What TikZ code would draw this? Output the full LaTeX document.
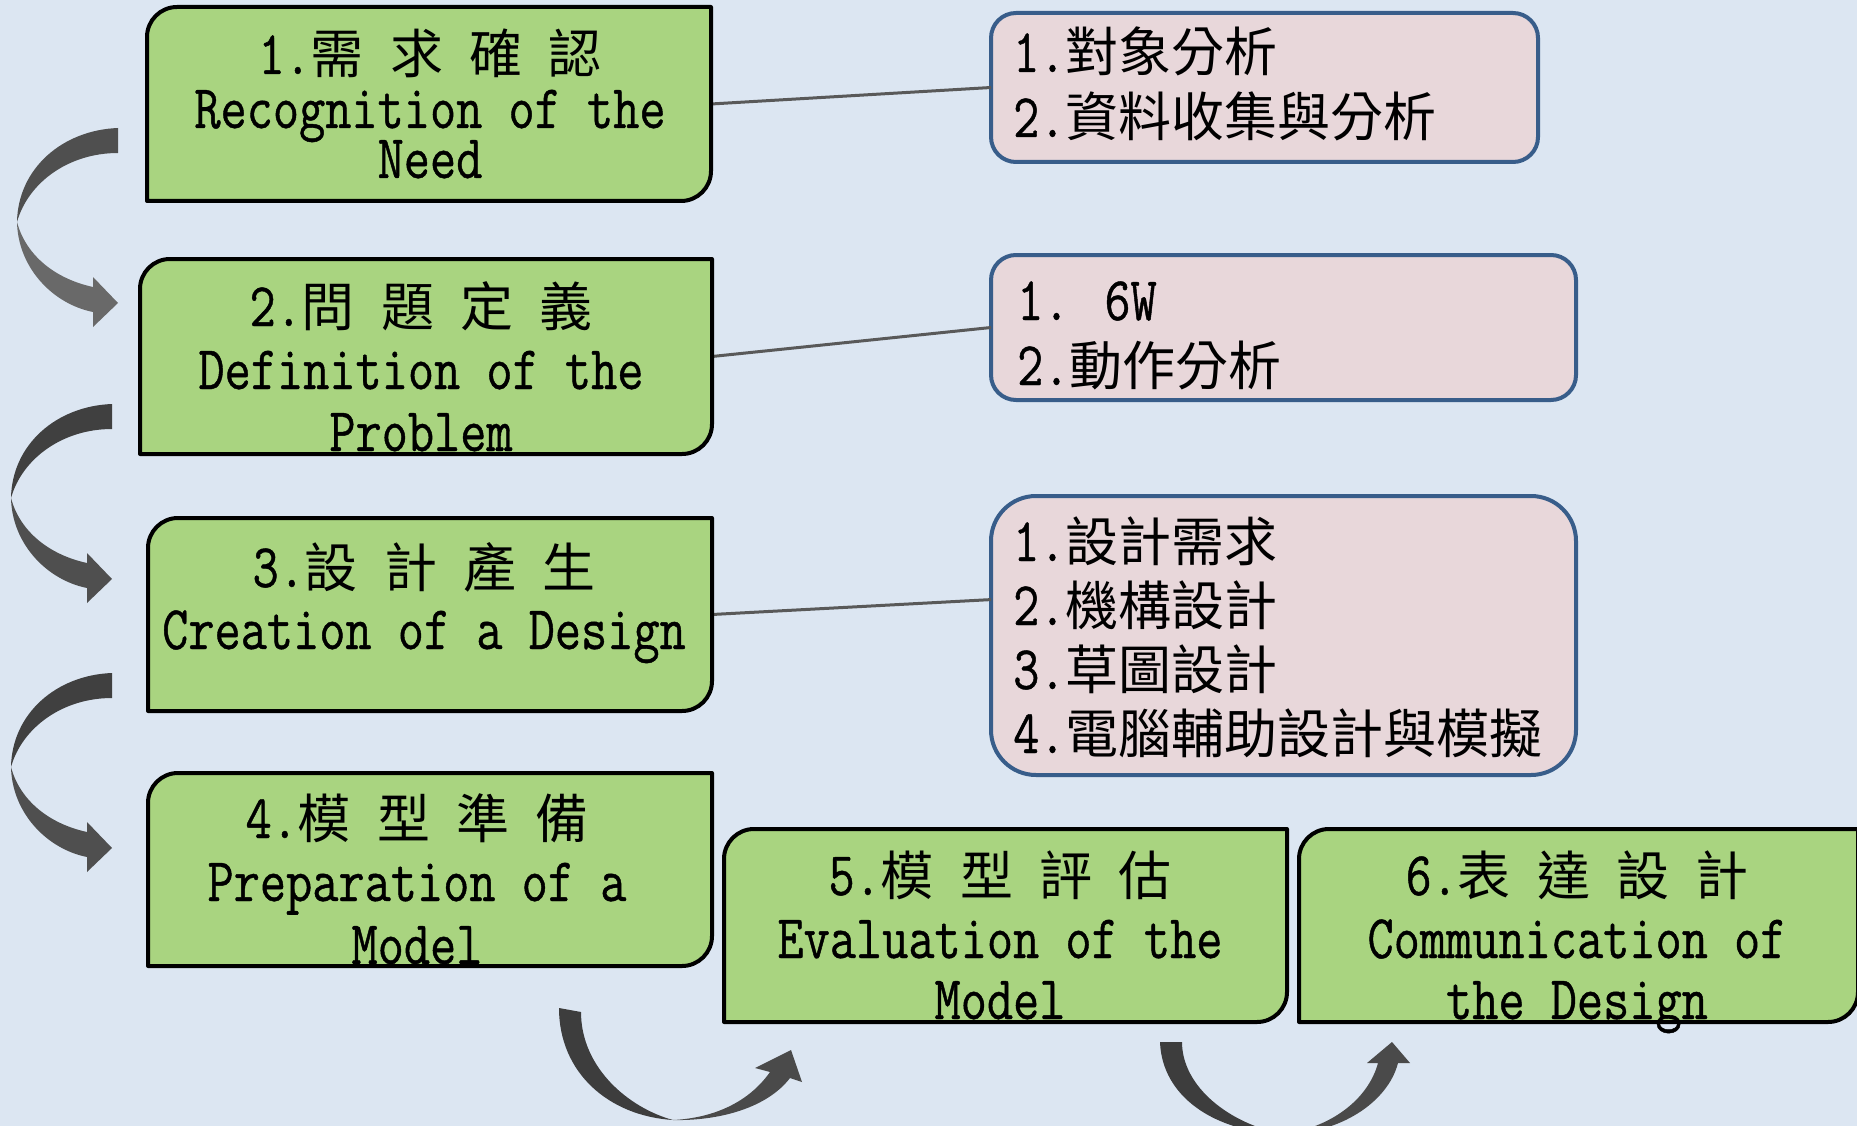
\documentclass[tikz,border=0pt]{standalone}
\usepackage{fontspec}
\setmainfont[FakeStretch=0.82,FakeBold=0.7]{Latin Modern Mono}
\newfontfamily\cjkfam{Noto Sans CJK TC}
\newcommand\zh[1]{{\cjkfam\fontsize{53}{64}\selectfont #1}}
\newcommand\latf{\fontsize{62}{64}\selectfont}
\definecolor{bgc}{RGB}{220,230,242}
\definecolor{gfill}{RGB}{169,212,128}
\definecolor{pfill}{RGB}{232,215,218}
\definecolor{pdraw}{RGB}{56,93,138}
\definecolor{lnc}{RGB}{89,89,89}
\newcommand\gshape[1]{%
  \draw[gbox] (#1.south west) -- ([yshift=-30pt]#1.north west)
    arc[start angle=180,end angle=90,radius=30pt] -- (#1.north east)
    -- ([yshift=30pt]#1.south east)
    arc[start angle=0,end angle=-90,radius=30pt] -- cycle;}
\newcommand\larrow[4]{%
  \begin{scope}[shift={(#1,#2)}]
  \fill[#3] (0,0) .. controls (-55,2) and (-100,40) .. (-101,94)
     .. controls (-90,55) and (-50,25) .. (0,25) -- cycle;
  \fill[#4] (-101,94) .. controls (-100,140) and (-65,176) .. (-25,184)
     -- (-25,199) -- (0,175) -- (-25,149) -- (-25,159)
     .. controls (-62,151) and (-92,128) .. (-101,94) -- cycle;
  \end{scope}}
\begin{document}
\begin{tikzpicture}[x=1pt,y=-1pt,
  boxn/.style={inner sep=0pt, outer sep=0pt, draw=none},
  gbox/.style={fill=gfill, draw=black, line width=4pt, line join=round},
  pbox/.style={boxn, fill=pfill, draw=pdraw, line width=4pt},
  conn/.style={draw=lnc, line width=3pt},
  ctext/.style={inner sep=0pt, anchor=base, font=\latf},
  ltext/.style={inner sep=0pt, anchor=base west, font=\latf}]
\fill[bgc] (0,0) rectangle (1857,1126);
\useasboundingbox (0,0) rectangle (1857,1126);

% green step boxes (geometry only)
\node[boxn, minimum width=564pt, minimum height=194pt] (b1) at (429,104) {};
\node[boxn, minimum width=572pt, minimum height=195pt] (b2) at (426,356.5) {};
\node[boxn, minimum width=564pt, minimum height=193pt] (b3) at (430,614.5) {};
\node[boxn, minimum width=564pt, minimum height=193pt] (b4) at (430,869.5) {};
\node[boxn, minimum width=563pt, minimum height=193pt] (b5) at (1005.5,925.5) {};
\node[boxn, minimum width=559pt, minimum height=193pt] (b6) at (1578.5,925.5) {};

% pink detail boxes
\node[pbox, rounded corners=25pt, minimum width=547pt, minimum height=149pt] (p1) at (1264.5,87.5) {};
\node[pbox, rounded corners=25pt, minimum width=585pt, minimum height=145pt] (p2) at (1283.5,327.5) {};
\node[pbox, rounded corners=45pt, minimum width=585pt, minimum height=279pt] (p3) at (1283.5,635.5) {};

% connectors
\draw[conn] (b1.east) -- (p1.west);
\draw[conn] (b2.east) -- (p2.west);
\draw[conn] (b3.east) -- (p3.173);

\gshape{b1}\gshape{b2}\gshape{b3}\gshape{b4}\gshape{b5}\gshape{b6}

% texts in green boxes
\node[ctext] (t1a) at (430,74) {1.\zh{需} \zh{求} \zh{確} \zh{認}};
\node[ctext] (t1b) at (430,128) {Recognition of the};
\node[ctext] (t1c) at (430,178) {Need};
\node[ctext] (t2a) at (421,326) {2.\zh{問} \zh{題} \zh{定} \zh{義}};
\node[ctext] (t2b) at (421,389) {Definition of the};
\node[ctext] (t2c) at (421,451) {Problem};
\node[ctext] (t3a) at (424,587) {3.\zh{設} \zh{計} \zh{產} \zh{生}};
\node[ctext] (t3b) at (424,649) {Creation of a Design};
\node[ctext] (t4a) at (417,838) {4.\zh{模} \zh{型} \zh{準} \zh{備}};
\node[ctext] (t4b) at (417,901) {Preparation of a};
\node[ctext] (t4c) at (417,964) {Model};
\node[ctext] (t5a) at (1000,895) {5.\zh{模} \zh{型} \zh{評} \zh{估}};
\node[ctext] (t5b) at (1000,958) {Evaluation of the};
\node[ctext] (t5c) at (1000,1019) {Model};
\node[ctext] (t6a) at (1577,895) {6.\zh{表} \zh{達} \zh{設} \zh{計}};
\node[ctext] (t6b) at (1577,958) {Communication of};
\node[ctext] (t6c) at (1577,1019) {the Design};

% texts in pink boxes
\node[ltext] (q1a) at (1013,72) {1.\zh{對象分析}};
\node[ltext] (q1b) at (1013,137) {2.\zh{資料收集與分析}};
\node[ltext] (q2a) at (1017,320) {1. 6W};
\node[ltext] (q2b) at (1017,385) {2.\zh{動作分析}};
\node[ltext] (q3a) at (1013,561) {1.\zh{設計需求}};
\node[ltext] (q3b) at (1013,625) {2.\zh{機構設計}};
\node[ltext] (q3c) at (1013,689) {3.\zh{草圖設計}};
\node[ltext] (q3d) at (1013,753) {4.\zh{電腦輔助設計與模擬}};

% curved arrows on the left
\larrow{118}{128}{black!69}{black!59}
\larrow{112}{404}{black!75}{black!69}
\larrow{112}{673}{black!75}{black!69}

% curved arrows at the bottom
\begin{scope}[shift={(559,1008)}]
  \fill[black!76] (0,0) .. controls (0,65) and (50,108) .. (114,112)
     .. controls (70,100) and (22,60) .. (22,4) -- cycle;
  \fill[black!71] (114,112) .. controls (160,113) and (208,100) .. (231,70)
     -- (243,74) -- (232,42) -- (196,60) -- (211,64)
     .. controls (190,94) and (155,110) .. (114,112) -- cycle;
\end{scope}
\begin{scope}[shift={(1160,1042)}]
  \fill[black!76] (0,0) .. controls (2,55) and (55,90) .. (123,92)
     .. controls (70,82) and (22,45) .. (22,0) -- cycle;
  \fill[black!71] (123,92) .. controls (180,92) and (228,60) .. (238,21)
     -- (250,21) -- (232,0) -- (207,21) -- (218,21)
     .. controls (208,58) and (170,86) .. (123,92) -- cycle;
\end{scope}
\end{tikzpicture}
\end{document}
